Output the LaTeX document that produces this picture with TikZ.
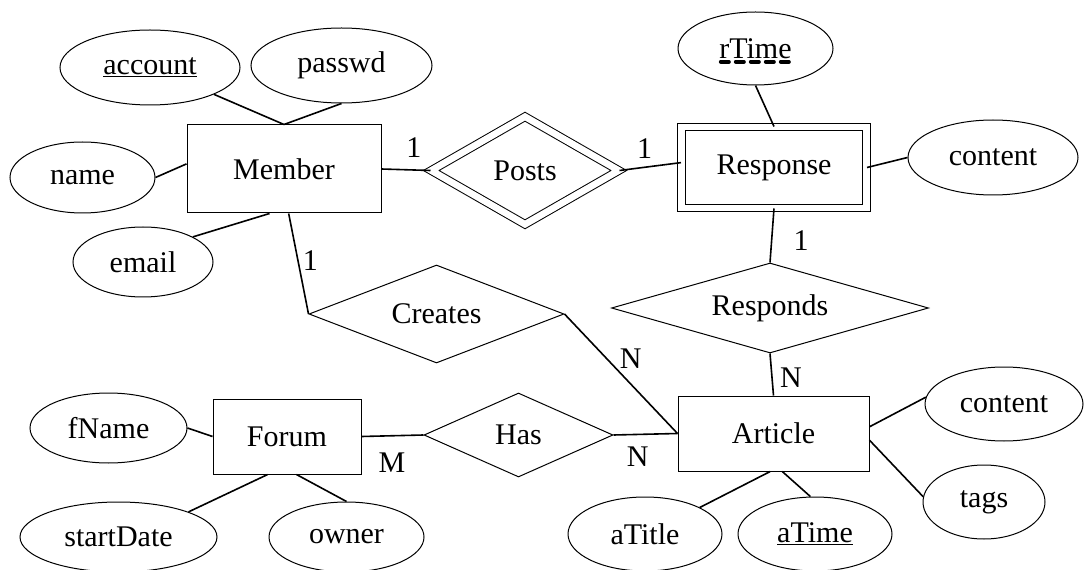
\documentclass[tikz,border=0pt]{standalone}
\usepackage{fontspec}
\setmainfont{Liberation Serif}
\usetikzlibrary{shapes.geometric}

\newcommand{\erfont}{\fontsize{22.5}{27}\selectfont}

\begin{document}
\begin{tikzpicture}[x=0.75pt, y=-0.75pt, line width=0.75pt,
                    entity/.style={rectangle,draw,font=\erfont},
                    weak entity/.style={entity,double,double distance=5pt},
                    attr/.style={ellipse,draw,inner sep=0pt,font=\erfont},
                    rel/.style={diamond,draw,inner sep=0pt,font=\erfont},
                    ident rel/.style={rel,double,double distance=5pt},
                    card/.style={inner sep=1pt,font=\erfont},
                    link/.style={line width=1.2pt},
                    partial key/.style={line width=3pt,line cap=round,dash pattern=on 6pt off 5.25pt}]

  \useasboundingbox (0,0) rectangle (1085,570);

  % entities
  \node[entity, minimum width=145.5pt, minimum height=66pt] (member) at (284,169) {Member};
  \node[weak entity, minimum width=138.75pt, minimum height=60.75pt] (response) at (774,167.5) {Response};
  \node[entity, minimum width=111pt, minimum height=56.25pt] (forum) at (287,436.5) {Forum};
  \node[entity, minimum width=143.25pt, minimum height=56.25pt] (article) at (773.5,433.5) {Article};

  % relationships
  \node[ident rel, aspect=1.74, minimum width=141pt, minimum height=81pt] (posts) at (525,170.5) {Posts};
  \node[rel, aspect=3.5, minimum width=237.75pt, minimum height=67.5pt] (responds) at (770,308) {Responds};
  \node[rel, aspect=2.6, minimum width=191.25pt, minimum height=73.5pt] (creates) at (436.5,314) {Creates};
  \node[rel, aspect=2.25, minimum width=141.75pt, minimum height=63pt] (has) at (518.5,435) {Has};

  % attributes
  \node[attr, minimum width=135pt, minimum height=56.25pt] (account) at (150,67.5) {\underline{account}};
  \node[attr, minimum width=135.75pt, minimum height=56.25pt] (passwd) at (341.5,65.5) {passwd};
  \node[attr, minimum width=108.75pt, minimum height=53.25pt] (name) at (82.5,177.5) {name};
  \node[attr, minimum width=105pt, minimum height=52.5pt] (email) at (143,262) {email};
  \node[attr, minimum width=116.25pt, minimum height=54.75pt] (rtime) at (755.5,48.5) {rTime};
  \node[attr, minimum width=127.5pt, minimum height=56.25pt] (rcontent) at (993,157.5) {content};
  \node[attr, minimum width=117.75pt, minimum height=52.5pt] (fname) at (108.5,428) {fName};
  \node[attr, minimum width=147.75pt, minimum height=52.5pt] (startdate) at (118.5,537) {startDate};
  \node[attr, minimum width=116.25pt, minimum height=52.5pt] (owner) at (346.5,537) {owner};
  \node[attr, minimum width=118.5pt, minimum height=55.5pt] (acontent) at (1004,404) {content};
  \node[attr, minimum width=91.5pt, minimum height=55.5pt] (tags) at (984,502) {tags};
  \node[attr, minimum width=115.5pt, minimum height=55.5pt] (atitle) at (645,534) {aTitle};
  \node[attr, minimum width=115.5pt, minimum height=55.5pt] (atime) at (815,534) {\underline{aTime}};

  % dashed underline of the partial key
  \draw[partial key] ([xshift=-26pt,yshift=-10pt]rtime.center) -- ([xshift=26pt,yshift=-10pt]rtime.center);

\path[link]
  (account.south east) edge (member.north)
  (passwd.south) edge (member.north)
  (name.east) edge (member.177)
  (email.north east) edge (member.252)

  (member.east) edge node[card, pos=0.66, above=7.5pt] {1} (posts.west)
  (posts.east) edge node[card, pos=0.41, above=5.25pt] {1} (response.177)
  (member.276) edge node[card, pos=0.47, right=2pt] {1} (creates.west)

  (rtime.south) edge (response.north)
  (response.east) edge (rcontent.west)
  (response.south) edge node[card, pos=0.6, right=15pt] {1} (responds.north)
  (responds.south) edge node[card, pos=0.58, right=4.5pt] {N} (article.north)

  (creates.east) edge node[card, pos=0.47, above right=0pt] {N} (article.west)
  (forum.east) edge node[card, pos=0.49, below=11.5pt] {M} (has.west)
  (has.east) edge node[card, pos=0.38, below=8pt] {N} (article.west)

  (fname.east) edge (forum.west)
  (startdate.north east) edge (forum.243)
  (owner.north) edge (forum.284)

  (article.4) edge (acontent.175)
  (article.356) edge (tags.175)
  (article.265) edge (atitle.north east)
  (article.283) edge (atime.97);

\end{tikzpicture}
\end{document}
